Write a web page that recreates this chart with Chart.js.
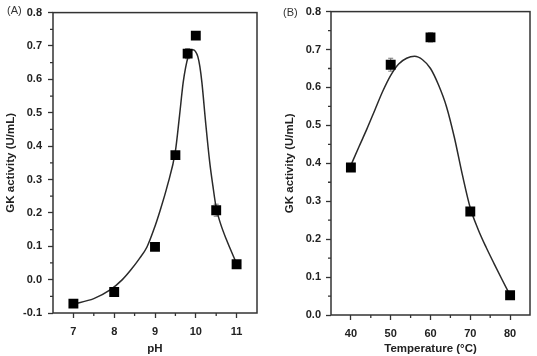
<!DOCTYPE html>
<html>
<head>
<meta charset="utf-8">
<script src="https://cdn.jsdelivr.net/npm/chart.js@4.4.1/dist/chart.umd.min.js"></script>
<style>
    body { margin: 0; background: #fff; width: 537px; height: 356px; position: relative; overflow: hidden; font-family: 'Liberation Sans', Arial, sans-serif; }
    #chartA { position: absolute; left: 0; top: 0; }
    #chartB { position: absolute; left: 268px; top: 0; }
    .tag { position: absolute; font-size: 11px; color: #333; line-height: 13px; }
</style>
</head>
<body>
<canvas id="chartA" width="268" height="356"></canvas>
<canvas id="chartB" width="269" height="356"></canvas>
<div class="tag" style="left:7px; top:4px;">(A)</div>
<div class="tag" style="left:283px; top:6px;">(B)</div>
<script>
// (A) pH
const phValues = [7, 8, 9, 9.5, 9.8, 10, 10.5, 11];
const phActivity = [-0.072, -0.037, 0.098, 0.373, 0.677, 0.731, 0.208, 0.046];
const phErr = [0.004, 0.004, 0.004, 0.01, 0.015, 0.004, 0.018, 0.01];
const phCurveX = [7, 7.5, 7.9, 8.2, 8.4, 8.6, 8.8, 9.0, 9.12, 9.3, 9.5, 9.6, 9.69, 9.75, 9.81, 9.87, 9.93, 9.99, 10.05, 10.1, 10.15, 10.24, 10.34, 10.42, 10.5, 10.6, 10.75, 11];
const phCurveY = [-0.073, -0.057, -0.031, 0.0, 0.028, 0.06, 0.097, 0.16, 0.205, 0.28, 0.385, 0.49, 0.59, 0.635, 0.667, 0.684, 0.689, 0.684, 0.668, 0.638, 0.59, 0.472, 0.353, 0.28, 0.215, 0.17, 0.12, 0.048];
const phTicks = [7, 8, 9, 10, 11];
const phMinor = [7.5, 8.5, 9.5, 10.5];
const phYTicks = [-0.1, 0, 0.1, 0.2, 0.3, 0.4, 0.5, 0.6, 0.7, 0.8];
const phYMinor = [-0.05, 0.05, 0.15, 0.25, 0.35, 0.45, 0.55, 0.65, 0.75];

// (B) temperatura
const tempValues = [40, 50, 60, 70, 80];
const tempActivity = [0.389, 0.660, 0.732, 0.273, 0.052];
const tempErr = [0.01, 0.017, 0.012, 0.01, 0.01];
const tempCurveX = [40, 42, 44, 46, 48, 50, 52, 54, 56, 58, 60, 62, 64, 66, 68, 70, 72, 74, 76, 78, 80];
const tempCurveY = [0.395, 0.443, 0.49, 0.54, 0.59, 0.632, 0.662, 0.677, 0.682, 0.673, 0.65, 0.607, 0.55, 0.468, 0.37, 0.282, 0.225, 0.178, 0.135, 0.093, 0.052];
const tempTicks = [40, 50, 60, 70, 80];
const tempMinor = [45, 55, 65, 75];
const tempYTicks = [0, 0.1, 0.2, 0.3, 0.4, 0.5, 0.6, 0.7, 0.8];
const tempYMinor = [0.05, 0.15, 0.25, 0.35, 0.45, 0.55, 0.65, 0.75];

const FONT = "'Liberation Sans', Arial, sans-serif";
const INK = '#333';

// moldura, ticks menores e barras de erro
const framePlugin = {
    id: 'frame',
    beforeDatasetsDraw(chart, args, opts) {
        const { ctx, scales: { x, y } } = chart;
        const pts = chart.data.datasets[0].data;
        ctx.save();
        ctx.strokeStyle = '#777';
        ctx.lineWidth = 1;
        pts.forEach((p, i) => {
            const px = x.getPixelForValue(p.x);
            const top = y.getPixelForValue(p.y + opts.err[i]);
            const bot = y.getPixelForValue(p.y - opts.err[i]);
            ctx.beginPath();
            ctx.moveTo(px, top); ctx.lineTo(px, bot);
            ctx.moveTo(px - 2.5, top); ctx.lineTo(px + 2.5, top);
            ctx.moveTo(px - 2.5, bot); ctx.lineTo(px + 2.5, bot);
            ctx.stroke();
        });
        ctx.restore();
    },
    afterDraw(chart, args, opts) {
        const { ctx, chartArea: a, scales: { x, y } } = chart;
        ctx.save();
        ctx.strokeStyle = INK;
        ctx.lineWidth = 1.3;
        ctx.beginPath();
        opts.minorX.forEach(v => {
            const px = x.getPixelForValue(v);
            ctx.moveTo(px, a.bottom); ctx.lineTo(px, a.bottom + 3);
        });
        opts.minorY.forEach(v => {
            const py = y.getPixelForValue(v);
            ctx.moveTo(a.left, py); ctx.lineTo(a.left - 3, py);
        });
        ctx.stroke();
        ctx.lineWidth = 1.5;
        ctx.strokeRect(a.left, a.top, a.right - a.left, a.bottom - a.top);
        ctx.restore();
    }
};

function criarGrafico(id, cfg) {
    const ctx = document.getElementById(id).getContext('2d');
    const tickFont = { family: FONT, size: 11, weight: 'bold' };
    const titleFont = { family: FONT, size: 11.5, weight: 'bold' };
    const axisGrid = { drawOnChartArea: false, drawTicks: true, tickLength: 5, tickColor: INK, tickWidth: 1.3 };

    return new Chart(ctx, {
        data: {
            datasets: [
                {
                    type: 'scatter',
                    data: cfg.xs.map((v, i) => ({ x: v, y: cfg.ys[i] })),
                    pointStyle: 'rect',
                    pointRadius: 7,
                    backgroundColor: '#000',
                    borderColor: '#000',
                    borderWidth: 0
                },
                {
                    type: 'line',
                    data: cfg.cx.map((v, i) => ({ x: v, y: cfg.cy[i] })),
                    borderColor: '#2a2a2a',
                    borderWidth: 1.5,
                    pointRadius: 0,
                    cubicInterpolationMode: 'monotone',
                    fill: false
                }
            ]
        },
        options: {
            responsive: false,
            animation: false,
            layout: { padding: cfg.padding },
            plugins: {
                legend: { display: false },
                tooltip: { enabled: false },
                frame: { err: cfg.err, minorX: cfg.minorX, minorY: cfg.minorY }
            },
            scales: {
                x: {
                    type: 'linear',
                    min: cfg.xMin,
                    max: cfg.xMax,
                    afterBuildTicks: s => { s.ticks = cfg.xTicks.map(v => ({ value: v })); },
                    afterFit: s => { s.height = cfg.xHeight; },
                    ticks: { font: tickFont, color: '#222', padding: 7, maxRotation: 0, autoSkip: false },
                    grid: axisGrid,
                    border: { display: false },
                    title: { display: true, text: cfg.xTitle, font: titleFont, color: '#222', padding: { top: 0, bottom: 0 } }
                },
                y: {
                    type: 'linear',
                    min: cfg.yMin,
                    max: cfg.yMax,
                    afterBuildTicks: s => { s.ticks = cfg.yTicks.map(v => ({ value: v })); },
                    afterFit: s => { s.width = cfg.yWidth; },
                    ticks: { font: tickFont, color: '#222', padding: cfg.yPad, callback: v => v.toFixed(1) },
                    grid: axisGrid,
                    border: { display: false },
                    title: { display: true, text: 'GK activity (U/mL)', font: titleFont, color: '#222', padding: { top: cfg.yTitlePad, bottom: 0 } }
                }
            }
        },
        plugins: [framePlugin]
    });
}

criarGrafico('chartA', {
    xs: phValues, ys: phActivity, err: phErr, cx: phCurveX, cy: phCurveY,
    xTicks: phTicks, yTicks: phYTicks, minorX: phMinor, minorY: phYMinor,
    xMin: 6.5, xMax: 11.5, yMin: -0.1, yMax: 0.8,
    xTitle: 'pH',
    padding: { top: 9, right: 11, left: 0, bottom: 0 },
    yWidth: 53, xHeight: 43, yPad: 6, yTitlePad: 4
});

criarGrafico('chartB', {
    xs: tempValues, ys: tempActivity, err: tempErr, cx: tempCurveX, cy: tempCurveY,
    xTicks: tempTicks, yTicks: tempYTicks, minorX: tempMinor, minorY: tempYMinor,
    xMin: 35, xMax: 85, yMin: 0, yMax: 0.8,
    xTitle: 'Temperature (°C)',
    padding: { top: 11, right: 2, left: 0, bottom: 0 },
    yWidth: 63, xHeight: 41, yPad: 5, yTitlePad: 15
});
</script>
</body>
</html>
